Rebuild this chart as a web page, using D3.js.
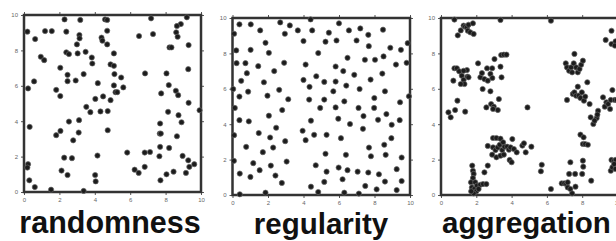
<!DOCTYPE html>
<html>
<head>
<meta charset="utf-8">
<script src="https://cdn.jsdelivr.net/npm/d3@7"></script>
<style>
  body { margin: 0; background: #fff; }
  svg { display: block; }
</style>
</head>
<body>
<script>
var svgWidth = 616;
var svgHeight = 241;

// point patterns, [x, y] in data units (0..10)
var randomPts = [
  [0.19,9.06],[0.63,8.64],[1.19,9.09],[1.57,9.09],[2.29,9.75],[2.39,9.06],[3.18,9.72],[3.13,8.87],
  [3.14,8.68],[2.99,8.34],[3.03,7.83],[2.39,7.89],[2.54,7.79],[3.48,7.92],[0.95,7.64],[1.14,7.45],
  [2.05,7.02],[2.46,6.62],[2.46,6.26],[2.92,6.30],[3.37,6.66],[3.83,7.60],[3.86,7.26],[4.38,8.72],
  [4.43,8.55],[4.58,9.75],[4.70,9.72],[4.70,9.11],[4.70,8.34],[5.08,7.83],[4.89,7.21],[5.08,7.13],
  [5.11,6.66],[5.49,6.47],[5.08,6.02],[5.17,5.64],[5.27,5.64],[5.61,5.91],[4.17,6.15],[0.57,6.25],
  [0.23,5.85],[1.82,5.77],[2.05,5.42],[4.03,5.26],[4.47,5.40],[4.89,5.19],[4.73,4.57],[4.32,4.55],
  [3.52,4.81],[3.75,4.51],[0.32,3.68],[2.54,3.98],[3.11,4.06],[2.06,3.45],[1.82,3.21],[3.09,3.36],
  [2.78,2.92],[4.73,3.49],[2.27,1.94],[2.71,1.91],[4.15,2.06],[2.12,1.21],[2.46,0.96],[4.02,0.96],
  [4.05,0.60],[0.23,1.57],[0.19,1.38],[0.30,0.66],[0.61,0.28],[1.53,0.13],[3.37,0.06],
  [7.18,9.81],[7.29,8.92],[6.50,8.81],[9.20,9.87],[8.86,9.49],[8.64,9.38],[8.60,9.02],[8.68,8.77],
  [9.30,8.30],[8.22,8.17],[8.33,8.17],[9.28,6.94],[6.84,6.70],[8.05,6.70],[8.18,6.04],[8.58,5.72],
  [8.71,5.47],[7.75,5.57],[9.30,5.04],[9.92,4.62],[8.14,4.53],[8.73,4.34],[8.90,3.94],[7.69,3.87],
  [7.67,3.30],[7.73,3.30],[8.64,3.15],[7.69,2.55],[8.20,2.49],[5.83,2.23],[6.82,2.23],[7.12,2.26],
  [7.65,2.02],[8.96,2.04],[9.28,1.79],[9.34,1.42],[9.62,1.57],[9.15,1.08],[8.45,1.15],[8.05,1.00],
  [7.71,0.66],[6.82,1.42],[6.25,1.26],[6.48,1.08]
];

var regularPts = [
  [0.09,9.11],[0.39,9.64],[1.03,9.64],[1.56,9.30],[2.69,9.75],[2.95,9.11],[3.23,9.58],[3.68,9.30],
  [4.00,8.70],[4.40,9.92],[4.49,9.30],[5.43,9.17],[5.24,8.66],[5.86,8.73],[6.00,9.70],[6.56,9.30],
  [6.99,8.73],[7.20,9.41],[7.65,9.05],[8.48,9.34],[1.86,8.60],[2.05,8.03],[0.21,8.17],[1.02,8.20],
  [0.23,7.45],[0.73,7.45],[1.45,7.28],[2.35,7.00],[2.91,7.47],[0.81,6.88],[0.49,6.45],[0.88,5.84],
  [0.39,5.56],[0.04,5.99],[0.13,4.92],[0.39,4.23],[0.92,4.16],[0.09,3.38],[1.77,6.37],[1.97,5.61],
  [2.63,5.94],[3.14,5.41],[2.80,4.80],[2.05,4.48],[2.46,3.80],[1.48,3.50],[2.12,3.25],[0.77,2.72],
  [1.71,2.42],[2.29,2.68],[2.97,3.04],[0.08,1.93],[1.17,1.80],[0.41,1.21],[1.01,1.02],[1.53,1.40],
  [2.16,1.66],[2.42,1.10],[2.78,0.68],[3.05,1.89],[0.41,0.04],[1.86,0.13],[4.12,7.37],[4.00,6.50],
  [4.34,6.11],[4.32,5.39],[3.95,3.63],[4.12,3.10],[4.42,4.20],[4.60,3.40],[4.83,8.02],[4.72,6.71],
  [5.17,6.39],[4.94,4.92],[5.17,5.39],[5.30,3.40],[5.24,2.33],[4.69,1.68],[5.30,1.32],[5.17,0.74],
  [4.42,0.47],[4.83,0.17],[5.68,5.86],[5.81,6.41],[5.81,7.26],[5.81,4.95],[5.96,4.31],[6.24,7.00],
  [6.41,6.18],[6.30,5.29],[6.11,3.21],[6.62,4.01],[6.86,6.79],[6.48,7.75],[5.98,1.55],[6.20,0.89],
  [6.48,1.40],[6.39,2.27],[6.30,0.13],[7.05,1.32],[7.12,0.08],[7.10,4.92],[7.38,4.46],[7.35,3.74],
  [7.16,5.99],[7.46,7.64],[7.68,8.41],[7.78,6.52],[7.99,5.48],[7.98,4.92],[8.20,4.25],[7.69,2.68],
  [7.80,2.19],[7.65,1.27],[7.48,0.51],[8.03,7.64],[8.51,7.83],[8.44,6.86],[8.59,5.86],[8.67,4.57],
  [8.55,2.84],[8.63,2.27],[8.25,1.17],[8.59,0.76],[8.12,0.32],[8.89,8.32],[9.21,7.37],[8.97,3.97],
  [8.95,3.21],[9.49,8.20],[9.87,8.58],[9.81,7.47],[9.44,5.24],[9.42,4.23],[9.94,5.58],[9.53,2.12],
  [9.25,1.46],[9.53,0.79],[9.25,0.28]
];

var clumpPts = [
  [0.76,9.91],[0.95,9.02],[1.12,9.30],[1.28,9.57],[1.37,9.51],[1.47,9.47],[1.56,9.62],[1.52,9.28],
  [1.66,9.19],[1.81,9.70],[1.85,9.10],[3.37,9.89],[6.23,9.85],
  [0.76,7.16],[0.90,7.16],[1.03,6.99],[1.18,6.74],[0.70,6.46],[1.28,6.50],[1.33,6.27],[1.47,7.06],
  [1.50,6.69],[1.56,6.65],[1.28,7.02],[1.12,6.27],[0.93,5.33],[0.80,4.80],[1.37,4.71],[0.42,4.67],
  [0.55,4.39],
  [2.10,7.44],[2.23,6.65],[2.32,6.89],[2.46,6.55],[2.65,6.46],[2.61,7.16],[2.90,7.16],[2.80,6.84],
  [2.91,6.61],[2.36,5.99],[2.80,5.86],[3.03,7.68],[3.37,7.25],[3.43,6.65],[3.41,7.91],[3.56,7.93],
  [3.71,7.93],[2.57,4.95],[2.84,5.14],[2.99,4.99],[3.22,4.80],[3.28,5.42],[2.95,4.86],[4.90,4.95],
  [2.95,3.22],[3.14,3.22],[3.37,3.18],[2.65,2.77],[2.95,2.69],[3.09,2.54],[3.22,2.69],[3.33,2.84],
  [3.47,2.54],[3.60,2.73],[3.75,2.73],[3.85,2.56],[3.52,2.98],[4.04,3.16],[3.94,2.69],[4.13,2.60],
  [4.29,2.41],[3.89,1.98],[4.00,1.85],[2.90,2.28],[3.14,2.13],[3.37,2.22],[3.56,2.28],[4.61,2.79],
  [4.70,2.92],[4.80,2.41],[5.12,2.73],
  [1.77,1.66],[1.81,1.37],[1.85,1.19],[1.81,0.96],[1.70,0.72],[1.94,0.72],[1.75,0.43],[1.89,0.34],
  [2.04,0.53],[2.23,0.58],[2.00,0.21],[1.85,0.09],[2.13,0.34],[2.38,0.62],[2.57,0.62],[2.46,1.28],
  [2.65,1.66],[1.71,0.21],
  [5.71,1.71],[5.66,1.34],[6.23,0.34],
  [7.07,7.44],[7.14,7.21],[7.26,7.02],[7.37,7.21],[7.43,6.93],[7.52,7.44],[7.56,7.97],[7.66,7.21],
  [7.75,6.93],[7.85,7.12],[7.94,7.36],[8.04,7.59],
  [7.14,5.37],[7.47,5.71],[7.56,5.80],[7.66,5.61],[7.75,6.12],[7.81,5.61],[7.90,5.48],[7.98,5.80],
  [8.10,5.33],[8.17,5.56],[8.29,6.37],[8.42,5.14],[8.48,4.39],[8.63,4.01],[8.82,4.35],[8.90,4.76],
  [8.86,4.54],[8.70,4.20],[9.18,5.52],[9.28,4.99],[9.37,5.24],[9.47,5.14],[9.58,4.86],[9.62,5.37],
  [9.71,5.93],[9.85,5.37],[9.96,5.37],
  [9.33,8.76],[9.66,9.28],[9.66,8.53],[9.89,8.68],[9.85,8.44],
  [7.90,3.41],[8.08,3.26],[8.04,2.88],[8.17,2.88],[8.32,2.84],
  [7.33,1.85],[8.04,1.94],[8.06,1.60],[8.00,1.19],[8.51,0.81],[7.60,1.19],[7.26,1.19],[6.84,0.66],
  [6.99,0.66],[7.10,0.62],[7.18,0.43],[7.33,0.34],[7.43,0.09],[7.62,0.47],[7.18,0.72],
  [9.66,1.98],[9.81,1.94],[9.90,1.98],[9.62,1.37],[9.71,1.56],[9.81,1.75],[9.89,1.47]
];

var tickValues = [0, 2, 4, 6, 8, 10];
var titles = ["randomness", "regularity", "aggregation"];

// panel frames in page pixels
var panels = [
  { pts: randomPts,  x: [24, 201],    y: [192, 15], title: titles[0], tx: 110, ty: 233, size: 30.5, anchor: "middle" },
  { pts: regularPts, x: [232.5, 410], y: [195, 18], title: titles[1], tx: 321, ty: 234, size: 29.5, anchor: "middle" },
  { pts: clumpPts,   x: [441, 617.5], y: [195, 18], title: titles[2], tx: 442, ty: 233, size: 29.5, anchor: "start" }
];

var svg = d3.select("body").append("svg")
  .attr("width", svgWidth)
  .attr("height", svgHeight);

panels.forEach(p => {
  const xScale = d3.scaleLinear().domain([0, 10]).range(p.x);
  const yScale = d3.scaleLinear().domain([0, 10]).range(p.y);
  const g = svg.append("g");

  // ticks on all four sides, labels only left and bottom
  const axes = [
    { ax: d3.axisBottom(xScale), tr: `translate(0,${p.y[0]})`, labels: true },
    { ax: d3.axisTop(xScale),    tr: `translate(0,${p.y[1]})`, labels: false },
    { ax: d3.axisLeft(yScale),   tr: `translate(${p.x[0]},0)`, labels: true },
    { ax: d3.axisRight(yScale),  tr: `translate(${p.x[1]},0)`, labels: false }
  ];
  axes.forEach(a => {
    const ag = g.append("g")
      .attr("transform", a.tr)
      .call(a.ax.tickValues(tickValues).tickSize(3).tickPadding(3).tickFormat(a.labels ? d3.format("d") : ""));
    ag.select(".domain").remove();
    ag.selectAll(".tick line").attr("stroke", "#555").attr("stroke-width", 1);
    ag.selectAll(".tick text")
      .attr("fill", "#666")
      .style("font-family", "Liberation Sans, Arial, sans-serif")
      .style("font-size", "6px");
  });

  // frame
  g.append("rect")
    .attr("x", p.x[0])
    .attr("y", p.y[1])
    .attr("width", p.x[1] - p.x[0])
    .attr("height", p.y[0] - p.y[1])
    .attr("fill", "none")
    .attr("stroke", "#333")
    .attr("stroke-width", 2.5);

  g.selectAll("circle")
    .data(p.pts)
    .join("circle")
      .attr("cx", d => xScale(d[0]))
      .attr("cy", d => yScale(d[1]))
      .attr("r", 2.6)
      .attr("fill", "#1c1c1c")
      .attr("stroke", "#666")
      .attr("stroke-width", 0.7);

  svg.append("text")
    .attr("x", p.tx)
    .attr("y", p.ty)
    .attr("text-anchor", p.anchor)
    .attr("fill", "#111")
    .style("font-family", "Liberation Sans, Arial, sans-serif")
    .style("font-weight", "bold")
    .style("font-size", p.size + "px")
    .text(p.title);
});
</script>
</body>
</html>
